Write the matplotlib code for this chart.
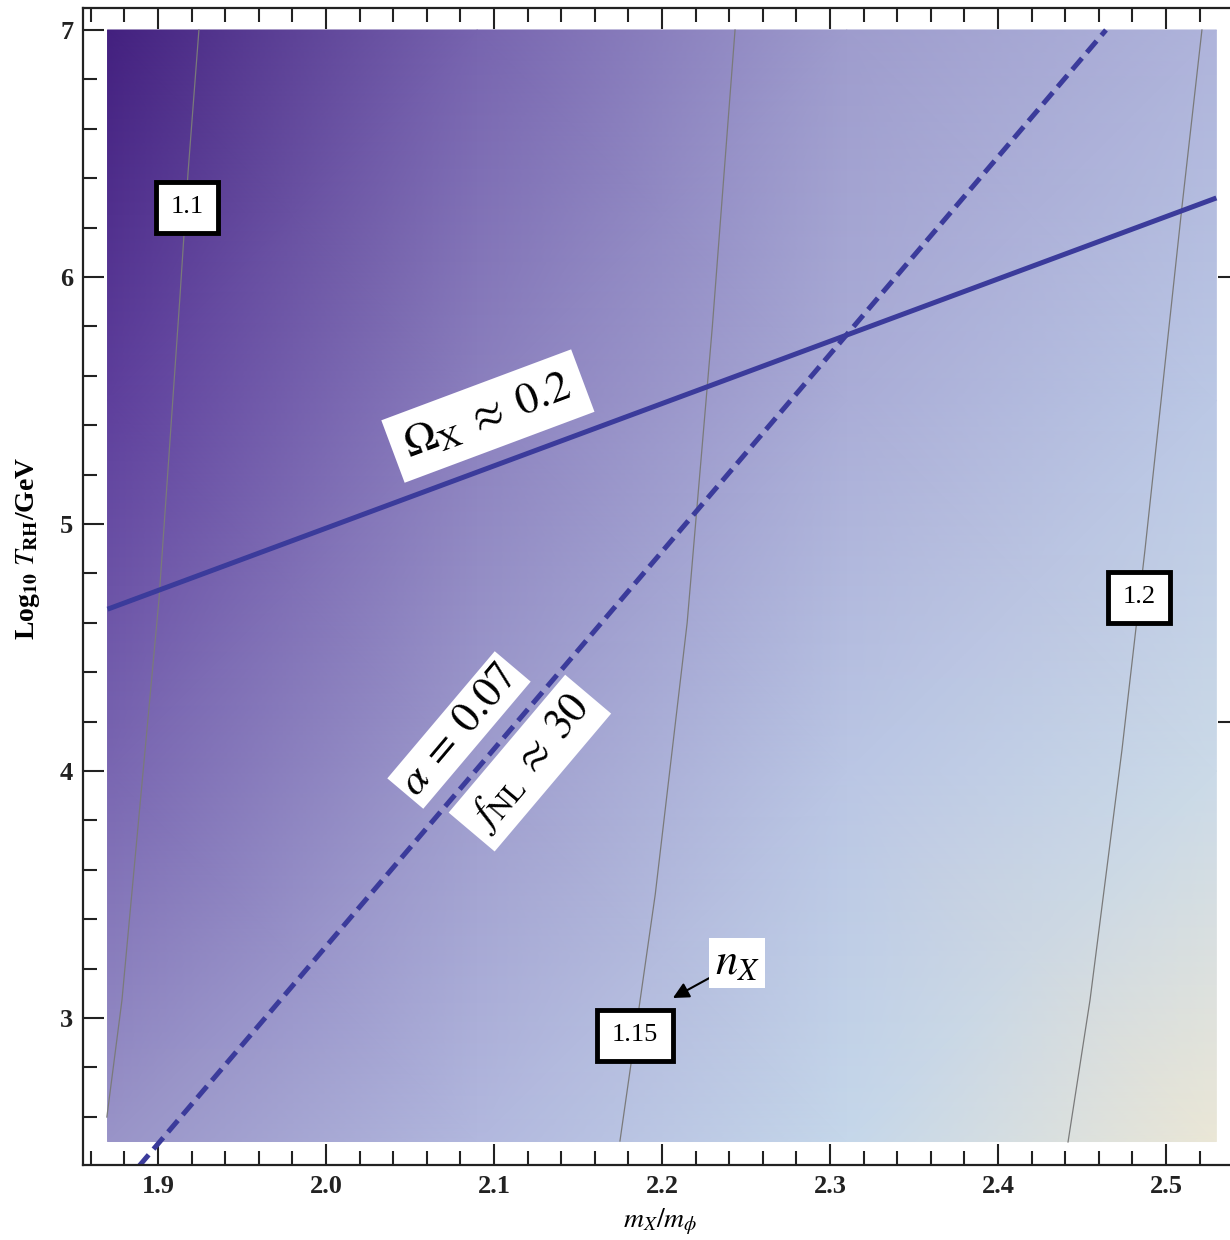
import numpy as np
import matplotlib
matplotlib.use("Agg")
import matplotlib.pyplot as plt
from matplotlib.colors import LinearSegmentedColormap

plt.rcParams["font.family"] = ["Liberation Serif", "DejaVu Serif"]
plt.rcParams["mathtext.fontset"] = "stix"

grid_x = [1.87, 2.09, 2.31, 2.53]
grid_y = [2.5, 4.0, 5.5, 7.0]
shade = [
    [0.44, 0.60, 0.76, 0.98],   # y = 2.5
    [0.28, 0.47, 0.67, 0.80],   # y = 4.0
    [0.15, 0.37, 0.55, 0.68],   # y = 5.5
    [0.00, 0.27, 0.47, 0.58],   # y = 7.0
]

# n_X contour lines
c110_x = [1.9244, 1.9179, 1.9131, 1.9006, 1.8786, 1.8696]
c110_y = [7.0, 6.421, 5.919, 4.692, 3.073, 2.599]
c115_x = [2.2435, 2.2300, 2.2150, 2.1960, 2.1750]
c115_y = [7.0, 5.800, 4.600, 3.500, 2.502]
c120_x = [2.5214, 2.5095, 2.4875, 2.4738, 2.4548, 2.4417]
c120_y = [7.0, 6.283, 4.895, 4.085, 3.073, 2.498]

# contour labels
clab_text = ["1.1", "1.15", "1.2"]
clab_x = [1.9173, 2.1839, 2.4839]
clab_y = [6.283, 2.931, 4.704]

# Omega_X ~ 0.2 (solid) and alpha = 0.07 / f_NL ~ 30 (dashed)
omega_x = [1.87, 2.53]
omega_y = [4.655, 6.32]
alpha_x = [1.8887, 2.4643]
alpha_y = [2.40, 7.00]

xticks = [1.9, 2.0, 2.1, 2.2, 2.3, 2.4, 2.5]
yticks = [3, 4, 5, 6, 7]

cmap = LinearSegmentedColormap.from_list("dens", [
    (0.00, "#43207F"), (0.15, "#5E3F9C"), (0.30, "#7D6DB4"),
    (0.45, "#9B97CA"), (0.60, "#B2B8DE"), (0.75, "#C3D6EB"),
    (0.88, "#D9E1E3"), (1.00, "#EFE8D4")])

fig = plt.figure(figsize=(12.3, 12.4), dpi=100)
ax = fig.add_axes([83 / 1230, 1 - 1165 / 1240, 1149 / 1230, 1157 / 1240])

X, Y = np.meshgrid(grid_x, grid_y)
ax.pcolormesh(X, Y, np.array(shade), cmap=cmap, vmin=0, vmax=1,
              shading="gouraud", zorder=0)

for cx, cy in [(c110_x, c110_y), (c115_x, c115_y), (c120_x, c120_y)]:
    ax.plot(cx, cy, color="#7a7a7a", lw=0.9, zorder=1)

line_col = "#3b3b9b"
ax.plot(omega_x, omega_y, color=line_col, lw=3.6, solid_capstyle="butt", zorder=2)
ax.plot(alpha_x, alpha_y, color=line_col, lw=3.6, dashes=(3, 1.5),
        dash_capstyle="butt", zorder=2)

for t, x, y in zip(clab_text, clab_x, clab_y):
    ax.text(x, y, t, ha="center", va="center", fontsize=19, zorder=4,
            bbox=dict(boxstyle="square,pad=0.55", fc="white", ec="black", lw=3.5))

ax.text(2.0964, 5.437, r"$\Omega_{\mathrm{X}}\;\approx\;0.2$", fontsize=32,
        rotation=20.5, rotation_mode="anchor", ha="center", va="center",
        zorder=4, bbox=dict(boxstyle="square,pad=0.3", fc="white", ec="none"))
ax.text(2.0792, 4.166, r"$\alpha\;=\;0.07$", fontsize=31,
        rotation=49.8, rotation_mode="anchor", ha="center", va="center",
        zorder=4, bbox=dict(boxstyle="square,pad=0.1", fc="white", ec="none"))
ax.text(2.1214, 4.032, r"$f_{\mathrm{NL}}\;\approx\;30$", fontsize=31,
        rotation=49.8, rotation_mode="anchor", ha="center", va="center",
        zorder=4, bbox=dict(boxstyle="square,pad=0.2", fc="white", ec="none"))

ax.annotate(r"$n_X$", xy=(2.2065, 3.081), xytext=(2.2446, 3.223),
            fontsize=32, ha="center", va="center", zorder=4,
            bbox=dict(boxstyle="square,pad=0.12", fc="white", ec="none"),
            arrowprops=dict(arrowstyle="-|>", color="black", lw=1.5,
                            mutation_scale=24, shrinkA=0, shrinkB=0))

ax.set_xlim(1.8554, 2.5393)
ax.set_ylim(2.4049, 7.089)
ax.set_xticks(xticks)
ax.set_xticklabels([f"{v:.1f}" for v in xticks])
ax.set_yticks(yticks)
ax.set_xticks(np.arange(1.86, 2.54, 0.02), minor=True)
ax.set_yticks(np.arange(2.6, 7.01, 0.2), minor=True)
ax.tick_params(which="both", direction="in", width=1.5, top=True,
               labelsize=19, pad=7, colors="#222222")
ax.tick_params(which="major", length=15)
ax.tick_params(which="minor", length=10)
for lab in ax.get_xticklabels() + ax.get_yticklabels():
    lab.set_fontweight("bold")
for s in ["left", "bottom", "top"]:
    ax.spines[s].set_linewidth(1.6)
    ax.spines[s].set_color("#222222")
ax.spines["right"].set_visible(False)

tw = ax.twinx()
tw.set_ylim(ax.get_ylim())
tw.set_yticks([6, 4.2])
tw.tick_params(direction="in", length=10, width=1.5, labelright=False,
               colors="#222222")
for s in tw.spines.values():
    s.set_visible(False)

fig.text(660 / 1230, 1 - 1222 / 1240, r"$\mathbf{\it{m_X}}/m_\phi$", fontsize=20,
         ha="center", va="center")
fig.text(28 / 1230, 1 - 548 / 1240, r"Log$_{\mathbf{10}}$ $T_{\mathbf{RH}}$/GeV",
         fontsize=20, fontweight="bold", rotation=90, ha="center", va="center")

fig.savefig("out.png", dpi=100)
